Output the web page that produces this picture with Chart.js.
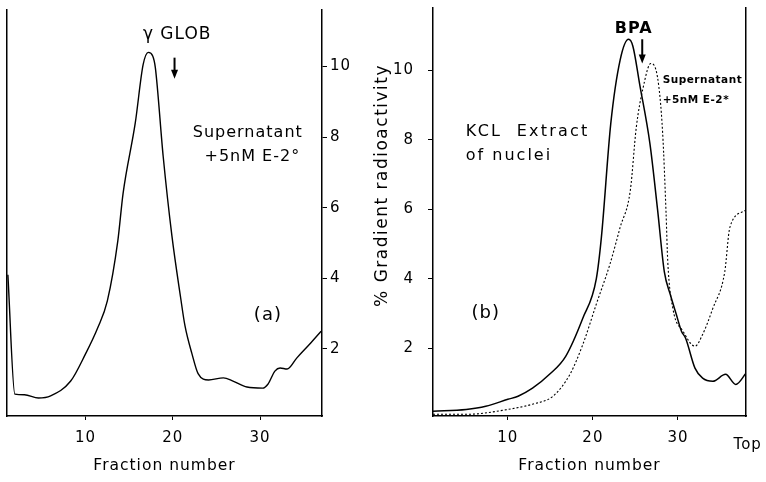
<!DOCTYPE html>
<html><head><meta charset="utf-8">
<script src="https://cdn.jsdelivr.net/npm/chart.js@4.4.1/dist/chart.umd.min.js"></script>
<style>
html,body{margin:0;padding:0;background:#fff;width:766px;height:482px;overflow:hidden;}
#c1{position:absolute;left:0;top:0;}
#c2{position:absolute;left:370px;top:0;}
</style>
</head><body>
<canvas id="c1" width="383" height="482"></canvas>
<canvas id="c2" width="396" height="482"></canvas>
<script>
// ---- data ----
const xTickValues = [10, 20, 30];
const yTickValues = [2, 4, 6, 8, 10];

// panel (a): Supernatant +5nM E-2*
const fracA = [1.1, 1.9, 3.0, 4.6, 6.0, 8.3, 10.0, 11.4, 12.5, 13.7, 14.3, 15.7, 16.6, 17.2, 17.7, 18.0, 18.9, 19.9, 20.9, 21.4, 22.2, 22.9, 24.1, 25.8, 26.9, 28.5, 30.3, 30.9, 31.7, 32.3, 33.1, 34.2, 35.7, 37.0];
const valA  = [4.1, 0.72, 0.70, 0.61, 0.67, 1.09, 1.86, 2.6, 3.36, 5.06, 6.4, 8.4, 10.05, 10.4, 10.3, 9.97, 7.45, 5.2, 3.45, 2.65, 1.86, 1.3, 1.12, 1.18, 1.09, 0.92, 0.89, 1.0, 1.37, 1.46, 1.43, 1.74, 2.14, 2.5];

// panel (b): KCl extract of nuclei (solid)
const fracKCl = [1.2, 5.1, 7.4, 10.0, 11.2, 12.9, 14.9, 16.8, 18.8, 20.4, 21.0, 22.1, 23.2, 24.2, 24.7, 25.5, 26.7, 27.6, 28.4, 29.1, 29.8, 30.4, 30.9, 32.0, 32.9, 34.1, 35.6, 36.8, 38.0];
const valKCl  = [0.19, 0.24, 0.33, 0.53, 0.62, 0.85, 1.25, 1.77, 2.86, 4.0, 5.2, 8.47, 10.3, 10.9, 10.7, 9.6, 7.9, 6.0, 4.2, 3.55, 2.98, 2.5, 2.29, 1.43, 1.14, 1.05, 1.25, 0.96, 1.28];

// panel (b): Supernatant +5nM E-2* (dotted)
const fracSup = [1.2, 5.3, 10.0, 12.9, 15.3, 17.3, 18.8, 20.4, 22.0, 23.2, 24.4, 25.1, 25.9, 26.8, 27.6, 28.2, 28.6, 28.8, 29.4, 30.6, 32.0, 32.9, 34.1, 35.5, 36.1, 37.9];
const valSup  = [0.1, 0.1, 0.24, 0.39, 0.62, 1.25, 2.1, 3.27, 4.42, 5.48, 6.55, 8.36, 9.5, 10.2, 9.8, 8.2, 5.9, 4.5, 3.15, 2.49, 2.06, 2.4, 3.15, 4.2, 5.48, 5.97];

// ---- rendering ----
const FAM = "'DejaVu Sans', sans-serif";
Chart.defaults.font.family = FAM;
Chart.defaults.color = '#000';

const pts = (xs, ys) => xs.map((x, i) => ({x: x, y: ys[i]}));

const spacing = {
  id: 'spacing',
  beforeDraw(chart) { chart.ctx.letterSpacing = '1px'; }
};

function makeAnnot(texts, arrows, vtitle) {
  return {
    id: 'annot',
    afterDraw(chart) {
      const ctx = chart.ctx, xs = chart.scales.x, ys = chart.scales.y;
      ctx.save();
      ctx.fillStyle = '#000';
      ctx.strokeStyle = '#000';
      ctx.textBaseline = 'middle';
      texts.forEach(t => {
        ctx.font = t.font;
        ctx.letterSpacing = (t.ls !== undefined ? t.ls : 1) + 'px';
        ctx.textAlign = t.align || 'center';
        ctx.fillText(t.text, xs.getPixelForValue(t.x), ys.getPixelForValue(t.y));
      });
      arrows.forEach(a => {
        const x = xs.getPixelForValue(a.x);
        const y1 = ys.getPixelForValue(a.y1), y2 = ys.getPixelForValue(a.y2);
        ctx.lineWidth = 2;
        ctx.beginPath(); ctx.moveTo(x, y1); ctx.lineTo(x, y2 - 6); ctx.stroke();
        ctx.beginPath(); ctx.moveTo(x - 3.5, y2 - 9); ctx.lineTo(x + 3.5, y2 - 9); ctx.lineTo(x, y2); ctx.closePath(); ctx.fill();
      });
      if (vtitle) {
        ctx.font = vtitle.font;
        ctx.letterSpacing = vtitle.ls + 'px';
        ctx.textAlign = 'center';
        ctx.translate(ys.left + vtitle.dx, ys.getPixelForValue(vtitle.y));
        ctx.rotate(-Math.PI / 2);
        ctx.fillText(vtitle.text, 0, 0);
      }
      ctx.restore();
    }
  };
}

function xScale(min, max) {
  return {
    type: 'linear', position: 'bottom', min: min, max: max,
    afterBuildTicks: s => { s.ticks = xTickValues.map(v => ({value: v})); },
    afterFit: s => { s.height = 66; s.paddingLeft = 0; s.paddingRight = 0; },
    grid: {display: true, drawOnChartArea: false, drawTicks: true, tickLength: 4, color: '#000', lineWidth: 1},
    border: {display: true, color: '#000', width: 1.5},
    ticks: {color: '#000', font: {size: 15, family: FAM}, padding: 9, maxRotation: 0},
    title: {display: true, text: 'Fraction number', color: '#000', font: {size: 15.5, family: FAM}, padding: {top: 0, bottom: 7}}
  };
}
function yScale(pos, min, max, width, pad) {
  return {
    type: 'linear', position: pos, min: min, max: max,
    afterBuildTicks: s => { s.ticks = yTickValues.map(v => ({value: v})); },
    afterFit: s => { s.width = width; s.paddingTop = 0; s.paddingBottom = 0; },
    grid: {display: true, drawOnChartArea: false, drawTicks: true, tickLength: 5, color: '#000', lineWidth: 1},
    border: {display: true, color: '#000', width: 1.5},
    ticks: {color: '#000', font: {size: 15, family: FAM}, padding: pad}
  };
}
function borderScale(pos, min, max) {
  return {
    type: 'linear', position: pos, min: min, max: max,
    afterFit: s => { s.width = 0; s.paddingTop = 0; s.paddingBottom = 0; },
    grid: {display: false}, ticks: {display: false},
    border: {display: true, color: '#000', width: 1.5}
  };
}

const annotA = makeAnnot([
  {text: 'γ GLOB', x: 20.5, y: 10.9, font: '17px ' + FAM},
  {text: 'Supernatant', x: 34.9, y: 8.13, font: '16px ' + FAM, align: 'right'},
  {text: '+5nM E-2°', x: 34.6, y: 7.45, font: '16px ' + FAM, align: 'right'},
  {text: '(a)', x: 30.9, y: 2.94, font: '18px ' + FAM}
], [
  {x: 20.2, y1: 10.25, y2: 9.65}
], null);

new Chart(document.getElementById('c1'), {
  type: 'line',
  data: {datasets: [{
    label: 'Supernatant +5nM E-2°',
    data: pts(fracA, valA),
    borderColor: '#000', borderWidth: 1.4, pointRadius: 0, fill: false,
    cubicInterpolationMode: 'monotone'
  }]},
  options: {
    responsive: false, animation: false, events: [],
    layout: {padding: {left: 7, top: 10, right: 0, bottom: 0}},
    plugins: {legend: {display: false}, tooltip: {enabled: false}},
    scales: {
      x: xScale(1, 37.1),
      y: yScale('right', 0.1, 11.6, 61, 3),
      yl: borderScale('left', 0.1, 11.6)
    }
  },
  plugins: [spacing, annotA]
});

const annotB = makeAnnot([
  {text: 'BPA', x: 24.8, y: 11.2, font: 'bold 16px ' + FAM},
  {text: 'Supernatant', x: 28.2, y: 9.71, font: 'bold 10.5px ' + FAM, align: 'left', ls: 0.5},
  {text: '+5nM E-2*', x: 28.2, y: 9.14, font: 'bold 10.5px ' + FAM, align: 'left', ls: 0.5},
  {text: 'KCL  Extract', x: 5.06, y: 8.22, font: '16px ' + FAM, align: 'left', ls: 2.2},
  {text: 'of nuclei', x: 5.06, y: 7.55, font: '16px ' + FAM, align: 'left', ls: 2},
  {text: '(b)', x: 7.4, y: 3.0, font: '18px ' + FAM},
  {text: 'Top', x: 38.2, y: -0.8, font: '15px ' + FAM}
], [
  {x: 25.8, y1: 10.9, y2: 10.2}
], {text: '% Gradient radioactivity', dx: 13, y: 6.69, font: '17px ' + FAM, ls: 1.5});

new Chart(document.getElementById('c2'), {
  type: 'line',
  data: {datasets: [{
    label: 'KCL Extract of nuclei',
    data: pts(fracKCl, valKCl),
    borderColor: '#000', borderWidth: 1.5, pointRadius: 0, fill: false,
    cubicInterpolationMode: 'monotone'
  }, {
    label: 'Supernatant +5nM E-2*',
    data: pts(fracSup, valSup),
    borderColor: '#000', borderWidth: 1.1, borderDash: [2, 2], pointRadius: 0, fill: false,
    cubicInterpolationMode: 'monotone'
  }]},
  options: {
    responsive: false, animation: false, events: [],
    layout: {padding: {left: 0, top: 8, right: 20, bottom: 0}},
    plugins: {legend: {display: false}, tooltip: {enabled: false}},
    scales: {
      x: xScale(1.2, 38),
      y: yScale('left', 0.05, 11.8, 63, 14),
      yr: borderScale('right', 0.05, 11.8)
    }
  },
  plugins: [spacing, annotB]
});
</script>
</body></html>
